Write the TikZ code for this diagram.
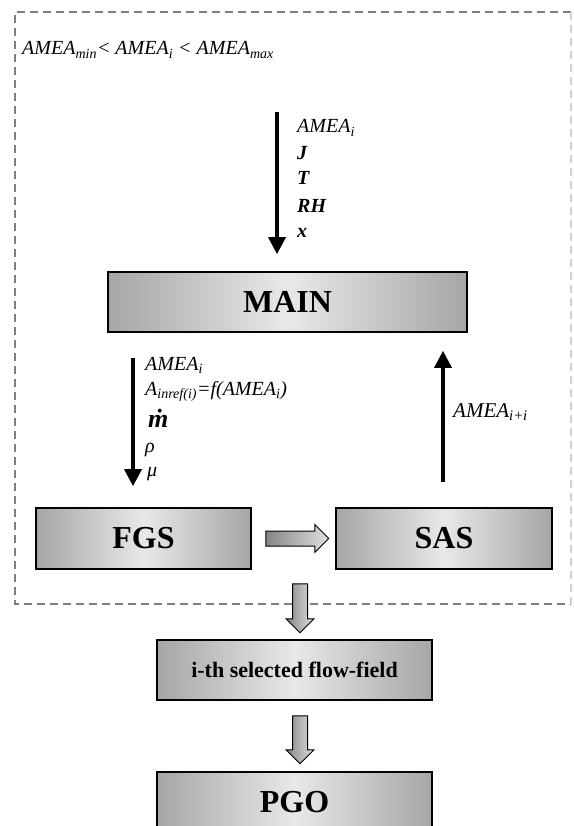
\documentclass[tikz,border=0pt]{standalone}
\usepackage{fontspec}
\setmainfont{Liberation Serif}
\usepackage{tikz}
\usetikzlibrary{shapes,positioning,calc}
\usetikzlibrary{arrows.meta}

\newcommand{\amea}{\textit{AMEA}}

\begin{document}
\begin{tikzpicture}[x=1pt,y=-1pt,
    block/.style={draw, line width=1.6pt, left color=gray!70, right color=gray!70, middle color=gray!18,
        font=\bfseries\fontsize{32}{36}\selectfont, inner sep=0pt},
    lbl/.style={anchor=base west, inner sep=0pt, font=\itshape\fontsize{20}{24}\selectfont},
    flowarrow/.style={-{Triangle[width=17pt,length=17pt]}, line width=3.5pt},
    fatarrow/.style={single arrow, draw, line width=1pt, single arrow head extend=6.5pt,
        inner ysep=7pt, inner xsep=0pt, left color=gray!95, right color=gray!25},
    frame/.style={gray, line width=2.5pt, dash pattern=on 8pt off 5pt}]
    \clip (0,0) rectangle (573,826);

    % dashed frame
    \draw[frame] (571,12) -- (15,12) -- (15,604) -- (571,604);
    \draw[frame, gray!35] (571,12) -- (571,604);

    % blocks
    \node[block, minimum width=359pt, minimum height=60pt] (main) at (287.5,302) {MAIN};
    \node[block, minimum width=215pt, minimum height=61pt] (fgs) at (143.5,538.5) {FGS};
    \node[block, minimum width=216pt, minimum height=61pt] (sas) at (444,538.5) {SAS};
    \node[block, minimum width=275pt, minimum height=60pt,
        font=\bfseries\fontsize{22}{26}\selectfont] (ith) at (294.5,670) {i-th selected flow-field};
    \node[block, minimum width=275pt, minimum height=60pt] (pgo) at (294.5,802) {PGO};

    % thin arrows
    \coordinate (inA) at (277,112);
    \coordinate (inB) at (133,0);
    \coordinate (inC) at (443,0);
    \draw[flowarrow, shorten >=17pt] (inA) -- (inA |- main.north);
    \draw[flowarrow, shorten <=25pt, shorten >=21pt] (main.south -| inB) -- (fgs.north -| inB);
    \draw[flowarrow, shorten <=25pt, shorten >=18pt] (sas.north -| inC) -- (main.south -| inC);

    % fat arrows
    \node[fatarrow, minimum height=63pt] (hor) at ($(fgs.east)!0.5!(sas.west)$) {};
    \node[fatarrow, rotate=-90, minimum height=49pt] (dnA) at (300,604.5) {};
    \node[fatarrow, rotate=-90, minimum height=48pt] (dnB) at (300,736) {};

    % labels
    \node[lbl] (cond) at (22,55)
        {\amea\textsubscript{min}< \amea\textsubscript{i} < \amea\textsubscript{max}};
    \foreach \y/\t [count=\k] in {133/\amea\textsubscript{i}, 160/\textbf{J}, 185/\textbf{T},
        212/\textbf{RH}, 237/\textbf{x}}
        \node[lbl] (in\k) at (297,\y) {\t};
    \node[lbl] (fa) at (145,370) {\amea\textsubscript{i}};
    \node[lbl] (fb) at (145,395)
        {A\textsubscript{inref(i)}=f(\amea\textsubscript{i})};
    \node[lbl, font=\itshape\fontsize{26}{30}\selectfont] (fc) at (148,427) {\textbf{ṁ}};
    \node[lbl] (fd) at (145,452) {ρ};
    \node[lbl] (fe) at (147,476) {μ};
    \node[lbl, font=\itshape\fontsize{21}{24}\selectfont] (back) at (453,417) {\amea\textsubscript{i+i}};
\end{tikzpicture}
\end{document}
